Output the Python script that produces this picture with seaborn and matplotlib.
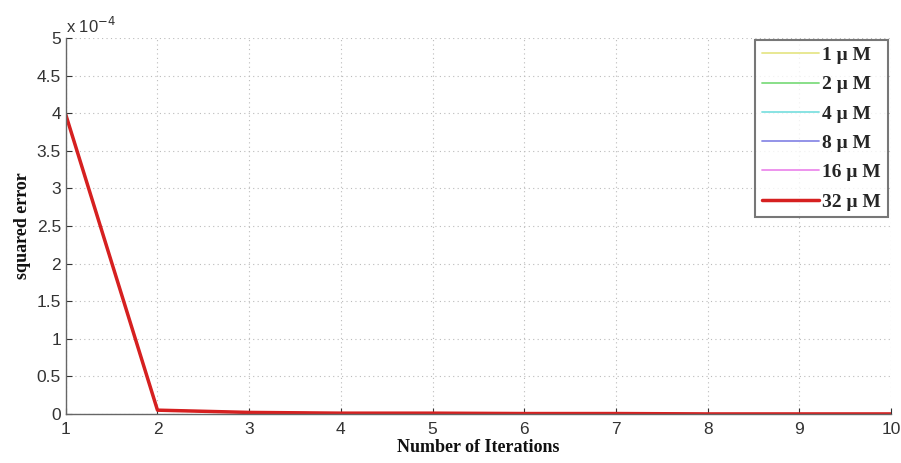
import matplotlib
matplotlib.use("Agg")
import matplotlib.pyplot as plt
import seaborn as sns
import pandas as pd

iterations = [1, 2, 3, 4, 5, 6, 7, 8, 9, 10]
err_1uM = [3.98e-4, 0.05e-4, 0.02e-4, 0.01e-4, 0.01e-4, 0.005e-4, 0.005e-4, 0.0, 0.0, 0.0]
err_2uM = [3.98e-4, 0.05e-4, 0.02e-4, 0.01e-4, 0.01e-4, 0.005e-4, 0.005e-4, 0.0, 0.0, 0.0]
err_4uM = [3.98e-4, 0.05e-4, 0.02e-4, 0.01e-4, 0.01e-4, 0.005e-4, 0.005e-4, 0.0, 0.0, 0.0]
err_8uM = [3.98e-4, 0.05e-4, 0.02e-4, 0.01e-4, 0.01e-4, 0.005e-4, 0.005e-4, 0.0, 0.0, 0.0]
err_16uM = [3.98e-4, 0.05e-4, 0.02e-4, 0.01e-4, 0.01e-4, 0.005e-4, 0.005e-4, 0.0, 0.0, 0.0]
err_32uM = [3.98e-4, 0.05e-4, 0.02e-4, 0.01e-4, 0.01e-4, 0.005e-4, 0.005e-4, 0.0, 0.0, 0.0]
labels = ["1 μ M", "2 μ M", "4 μ M", "8 μ M", "16 μ M", "32 μ M"]
colors = ["#e6e68a", "#7fdc7f", "#7fe0e0", "#8a8ae6", "#ec8aec", "#d62020"]
widths = [1.3, 1.3, 1.3, 1.3, 1.3, 2.5]

sns.set_theme(style="white")
plt.rcParams['font.family'] = ['Liberation Sans', 'DejaVu Sans']

series = [err_1uM, err_2uM, err_4uM, err_8uM, err_16uM, err_32uM]
rows = []
for lab, vals in zip(labels, series):
    for it, v in zip(iterations, vals):
        rows.append({"iter": it, "err": v * 1e4, "conc": lab})
df = pd.DataFrame(rows)

fig = plt.figure(figsize=(9.01, 4.63), dpi=100)
ax = fig.add_axes([0.073, 0.106, 0.916, 0.812])

for lab, col, w in zip(labels, colors, widths):
    sub = df[df["conc"] == lab]
    sns.lineplot(data=sub, x="iter", y="err", ax=ax, color=col, linewidth=w, label=lab)

ax.set_xlim(1, 10)
ax.set_ylim(0, 5)
ax.set_xticks(range(1, 11))
ax.set_yticks([0, 0.5, 1, 1.5, 2, 2.5, 3, 3.5, 4, 4.5, 5])
ax.set_yticklabels(["0", "0.5", "1", "1.5", "2", "2.5", "3", "3.5", "4", "4.5", "5"])
ax.tick_params(axis='both', labelsize=12.5, colors='#333333', direction='in', length=4, width=0.8, left=True, bottom=True)
ax.tick_params(axis='x', pad=6)
ax.grid(True, linestyle=(0, (1, 3)), color='#bbbbbb', linewidth=0.8)
for s in ["top", "right"]:
    ax.spines[s].set_visible(False)
for s in ["left", "bottom"]:
    ax.spines[s].set_color('#666666')
    ax.spines[s].set_linewidth(1.0)

ax.set_xlabel("Number of Iterations", fontfamily="Liberation Serif", fontweight="bold", fontsize=13, labelpad=1, color='#111111')
ax.set_ylabel("squared error", fontfamily="Liberation Serif", fontweight="bold", fontsize=13, labelpad=4, color='#111111')
ax.text(0.0, 1.005, r"x 10$^{-4}$", transform=ax.transAxes, fontsize=12, color='#333333', ha='left', va='bottom')

leg = ax.legend(loc='upper right', bbox_to_anchor=(1.0, 1.003), frameon=True, fancybox=False,
                prop={'family': 'Liberation Serif', 'weight': 'bold', 'size': 14},
                handlelength=2.9, borderpad=0.35, labelspacing=0.6, handletextpad=0.2,
                borderaxespad=0.15)
leg.get_frame().set_edgecolor('#555555')
leg.get_frame().set_linewidth(1.5)

fig.savefig("out.png", dpi=100)
